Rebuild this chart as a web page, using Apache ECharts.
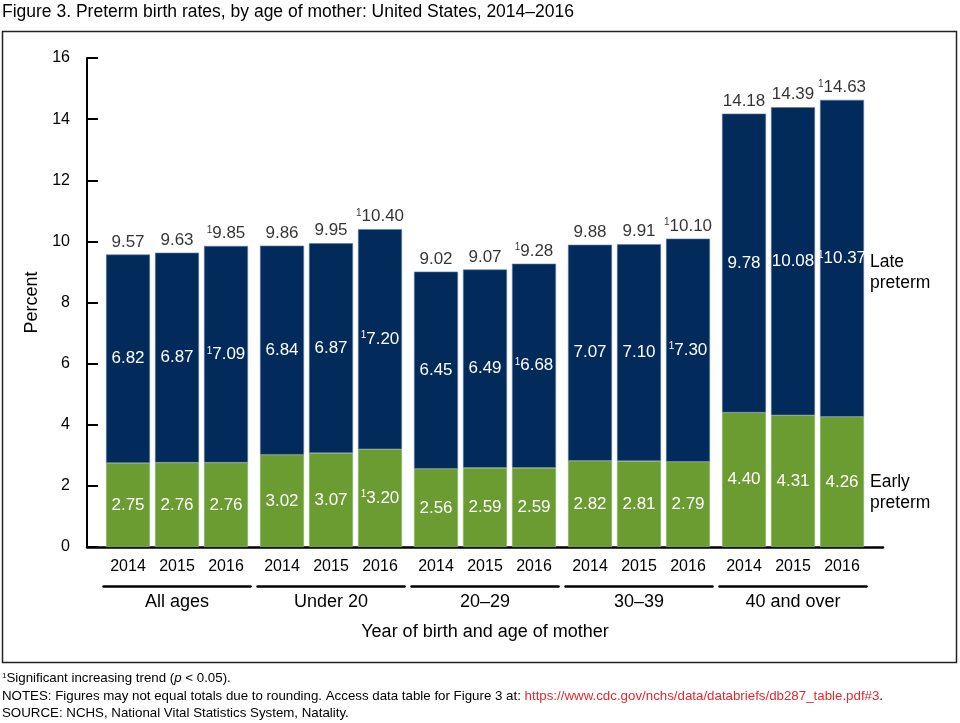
<!DOCTYPE html>
<html><head><meta charset="utf-8">
<script src="https://cdn.jsdelivr.net/npm/echarts@6/dist/echarts.min.js"></script>
<style>html,body{margin:0;padding:0;background:#fff}#c{width:960px;height:723px}</style>
</head><body><div id="c"></div>
<script>
const groups = ['All ages', 'Under 20', '20–29', '30–39', '40 and over'];
const years = ['2014', '2015', '2016'];
const early = [[2.75, 2.76, 2.76], [3.02, 3.07, 3.20], [2.56, 2.59, 2.59], [2.82, 2.81, 2.79], [4.40, 4.31, 4.26]];
const late = [[6.82, 6.87, 7.09], [6.84, 6.87, 7.20], [6.45, 6.49, 6.68], [7.07, 7.10, 7.30], [9.78, 10.08, 10.37]];
const total = [[9.57, 9.63, 9.85], [9.86, 9.95, 10.40], [9.02, 9.07, 9.28], [9.88, 9.91, 10.10], [14.18, 14.39, 14.63]];
const earlySig = [[0, 0, 0], [0, 0, 1], [0, 0, 0], [0, 0, 0], [0, 0, 0]];
const lateSig = [[0, 0, 1], [0, 0, 1], [0, 0, 1], [0, 0, 1], [0, 0, 1]];
const totalSig = [[0, 0, 1], [0, 0, 1], [0, 0, 1], [0, 0, 1], [0, 0, 1]];
const yTicks = { min: 0, max: 16, interval: 2 };

const FONT = 'Liberation Sans, Arial, sans-serif';
const NAVY = '#022b5b';
const GREEN = '#6b9c32';
const PLOT_TOP = 58, PLOT_BOTTOM = 723 - 547;
const G0 = 103.5, GW = 147, GSTEP = 154;

const chart = echarts.init(document.getElementById('c'), null, { renderer: 'canvas' });

const richStyle = (color) => ({
  s: { fontSize: 10, color: color, fontFamily: FONT, verticalAlign: 'top', padding: [0, 0, 7, 0] },
  v: { fontSize: 17, color: color, fontFamily: FONT }
});
const fmt = (v, sig) => sig ? '{s|1}{v|' + v.toFixed(2) + '}' : '{v|' + v.toFixed(2) + '}';

const grid = [{ left: 87, width: 796, top: PLOT_TOP, bottom: PLOT_BOTTOM }];
const xAxis = [{
  gridIndex: 0, type: 'value', min: 0, max: 1,
  axisLine: { show: true, lineStyle: { color: '#000', width: 2.5 } },
  axisTick: { show: false }, axisLabel: { show: false }, splitLine: { show: false },
  name: 'Year of birth and age of mother', nameLocation: 'middle', nameGap: 76,
  nameTextStyle: { fontSize: 18, color: '#000', fontFamily: FONT }
}];
const yAxis = [{
  gridIndex: 0, type: 'value', min: yTicks.min, max: yTicks.max, interval: yTicks.interval,
  axisLine: { show: true, lineStyle: { color: '#000', width: 2 } },
  axisTick: { show: true, inside: true, length: 11, lineStyle: { color: '#000', width: 2 } },
  axisLabel: { fontSize: 16, color: '#000', fontFamily: FONT, margin: 17 },
  splitLine: { show: false },
  name: 'Percent', nameLocation: 'middle', nameGap: 42, nameRotate: 90,
  nameTextStyle: { fontSize: 18, color: '#000', fontFamily: FONT }
}];
const series = [];

groups.forEach((g, i) => {
  const gi = i + 1;
  grid.push({ left: G0 + GSTEP * i, width: GW, top: PLOT_TOP, bottom: PLOT_BOTTOM });
  xAxis.push({
    gridIndex: gi, type: 'category', data: years,
    axisLine: { show: false }, axisTick: { show: false },
    axisLabel: { fontSize: 16, color: '#000', fontFamily: FONT, margin: 12 },
    name: g, nameLocation: 'middle', nameGap: 46,
    nameTextStyle: { fontSize: 18, color: '#000', fontFamily: FONT }
  });
  xAxis.push({
    gridIndex: gi, type: 'category', data: years, position: 'bottom', offset: 39,
    axisLine: { show: true, lineStyle: { color: '#000', width: 2.5 } },
    axisTick: { show: false }, axisLabel: { show: false }
  });
  yAxis.push({ gridIndex: gi, type: 'value', min: yTicks.min, max: yTicks.max, interval: yTicks.interval, show: false });
  const xi = xAxis.length - 2;
  const yi = gi;
  series.push({
    type: 'bar', name: 'Early preterm', stack: 's' + i, xAxisIndex: xi, yAxisIndex: yi,
    barWidth: 44,
    itemStyle: { color: GREEN, borderColor: '#8fb56a', borderWidth: 0.6 },
    data: early[i].map((v, j) => ({
      value: v,
      label: { show: true, position: 'inside', formatter: fmt(v, earlySig[i][j]), rich: richStyle('#fff') }
    }))
  });
  series.push({
    type: 'bar', name: 'Late preterm', stack: 's' + i, xAxisIndex: xi, yAxisIndex: yi,
    barWidth: 44,
    itemStyle: { color: NAVY, borderColor: '#5f7fa3', borderWidth: 0.6 },
    data: late[i].map((v, j) => ({
      value: v,
      label: { show: true, position: 'inside', formatter: fmt(v, lateSig[i][j]), rich: richStyle('#fff') }
    }))
  });
  series.push({
    type: 'scatter', xAxisIndex: xi, yAxisIndex: yi, symbolSize: 0, silent: true,
    data: total[i].map((v, j) => ({
      value: v,
      label: { show: true, position: 'top', distance: 4, formatter: fmt(v, totalSig[i][j]), rich: richStyle('#000') }
    }))
  });
});

chart.setOption({
  animation: false,
  backgroundColor: '#fff',
  textStyle: { fontFamily: FONT },
  grid, xAxis, yAxis, series,
  graphic: [
    { type: 'rect', shape: { x: 2.5, y: 31.5, width: 954, height: 631 }, style: { fill: 'none', stroke: '#222', lineWidth: 1.5 }, silent: true },
    { type: 'text', left: 2, top: 3, style: { text: 'Figure 3. Preterm birth rates, by age of mother: United States, 2014–2016', fontSize: 17.5, fill: '#000', fontFamily: FONT } },
    { type: 'text', left: 870, top: 252, style: { text: 'Late\npreterm', fontSize: 17.5, lineHeight: 21, fill: '#000', fontFamily: FONT } },
    { type: 'text', left: 870, top: 472, style: { text: 'Early\npreterm', fontSize: 17.5, lineHeight: 21, fill: '#000', fontFamily: FONT } },
    { type: 'text', left: 2, top: 672, style: {
      text: '{s|1}{t|Significant increasing trend (}{i|p}{t| < 0.05).}',
      rich: { s: { fontSize: 8, verticalAlign: 'top', padding: [0, 0, 5, 0], fontFamily: FONT, fill: '#000' }, t: { fontSize: 13.3, fontFamily: FONT, fill: '#000' }, i: { fontSize: 13.3, fontStyle: 'italic', fontFamily: FONT, fill: '#000' } } } },
    { type: 'text', left: 2, top: 690, style: {
      text: '{t|NOTES: Figures may not equal totals due to rounding. Access data table for Figure 3 at: }{u|https://www.cdc.gov/nchs/data/databriefs/db287_table.pdf#3}{t|.}',
      rich: { t: { fontSize: 13.3, fontFamily: FONT, fill: '#000' }, u: { fontSize: 13.3, fontFamily: FONT, fill: '#e8262d' } } } },
    { type: 'text', left: 2, top: 707, style: { text: 'SOURCE: NCHS, National Vital Statistics System, Natality.', fontSize: 13.3, fill: '#000', fontFamily: FONT } }
  ]
});
</script></body></html>
